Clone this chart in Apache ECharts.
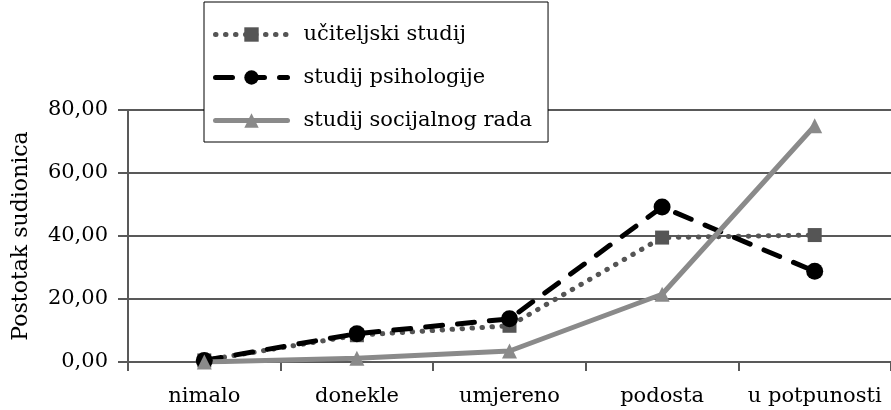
<!DOCTYPE html>
<html>
<head>
<meta charset="utf-8">
<script src="https://cdn.jsdelivr.net/npm/echarts@6/dist/echarts.min.js"></script>
<style>
  html, body { margin: 0; padding: 0; background: #fff; }
  #chart { width: 891px; height: 410px; }
</style>
</head>
<body>
<div id="chart"></div>
<script>
// categories and values
const categories = ['nimalo', 'donekle', 'umjereno', 'podosta', 'u potpunosti'];
const uciteljski = [0.5, 8.5, 11.5, 39.5, 40.3];
const psihologija = [0.5, 9.0, 13.7, 49.2, 28.8];
const socijalniRad = [0, 1.2, 3.5, 21.5, 75.0];
const yTicks = { min: 0, max: 80, interval: 20 };

const font = 'DejaVu Serif';
const axisColor = '#595959';

const chart = echarts.init(document.getElementById('chart'));

const option = {
  animation: false,
  backgroundColor: '#fff',
  textStyle: { fontFamily: font },
  grid: {
    left: 128,
    right: 0,
    top: 110,
    bottom: 48
  },
  legend: {
    orient: 'vertical',
    left: 204,
    top: 2,
    padding: [22, 16, 11, 9],
    itemWidth: 72,
    itemHeight: 18,
    itemGap: 22,
    backgroundColor: '#fff',
    borderColor: '#000',
    borderWidth: 1,
    borderRadius: 0,
    lineStyle: { width: 5 },
    textStyle: {
      fontFamily: font,
      fontSize: 21,
      color: '#000',
      padding: [0, 0, 0, 11]
    },
    data: ['učiteljski studij', 'studij psihologije', 'studij socijalnog rada']
  },
  xAxis: {
    type: 'category',
    data: categories,
    boundaryGap: true,
    axisLine: { lineStyle: { color: axisColor, width: 2 } },
    axisTick: { show: true, interval: 0, length: 9, lineStyle: { color: axisColor, width: 2 } },
    axisLabel: {
      interval: 0,
      fontFamily: font,
      fontSize: 21,
      color: '#000',
      margin: 24
    }
  },
  yAxis: {
    type: 'value',
    min: yTicks.min,
    max: yTicks.max,
    interval: yTicks.interval,
    name: 'Postotak sudionica',
    nameLocation: 'middle',
    nameGap: 96,
    nameTextStyle: { fontFamily: font, fontSize: 22, color: '#000' },
    axisLine: { show: true, lineStyle: { color: axisColor, width: 2 } },
    axisTick: { show: true, length: 10, lineStyle: { color: axisColor, width: 2 } },
    splitLine: { lineStyle: { color: axisColor, width: 2 } },
    axisLabel: {
      fontFamily: font,
      fontSize: 21,
      color: '#000',
      margin: 20,
      formatter: (v) => v.toFixed(2).replace('.', ',')
    }
  },
  series: [
    {
      name: 'učiteljski studij',
      type: 'line',
      data: uciteljski,
      symbol: 'rect',
      symbolSize: 14,
      itemStyle: { color: '#555555' },
      lineStyle: { color: '#555555', width: 5, type: [0.5, 9.5], cap: 'round' }
    },
    {
      name: 'studij psihologije',
      type: 'line',
      data: psihologija,
      symbol: 'circle',
      symbolSize: 17,
      itemStyle: { color: '#000' },
      lineStyle: { color: '#000', width: 5, type: [17, 15], cap: 'round' }
    },
    {
      name: 'studij socijalnog rada',
      type: 'line',
      data: socijalniRad,
      symbol: 'triangle',
      symbolSize: 15,
      itemStyle: { color: '#8a8a8a' },
      lineStyle: { color: '#8a8a8a', width: 5, type: 'solid', cap: 'round' }
    }
  ]
};

chart.setOption(option);
</script>
</body>
</html>
